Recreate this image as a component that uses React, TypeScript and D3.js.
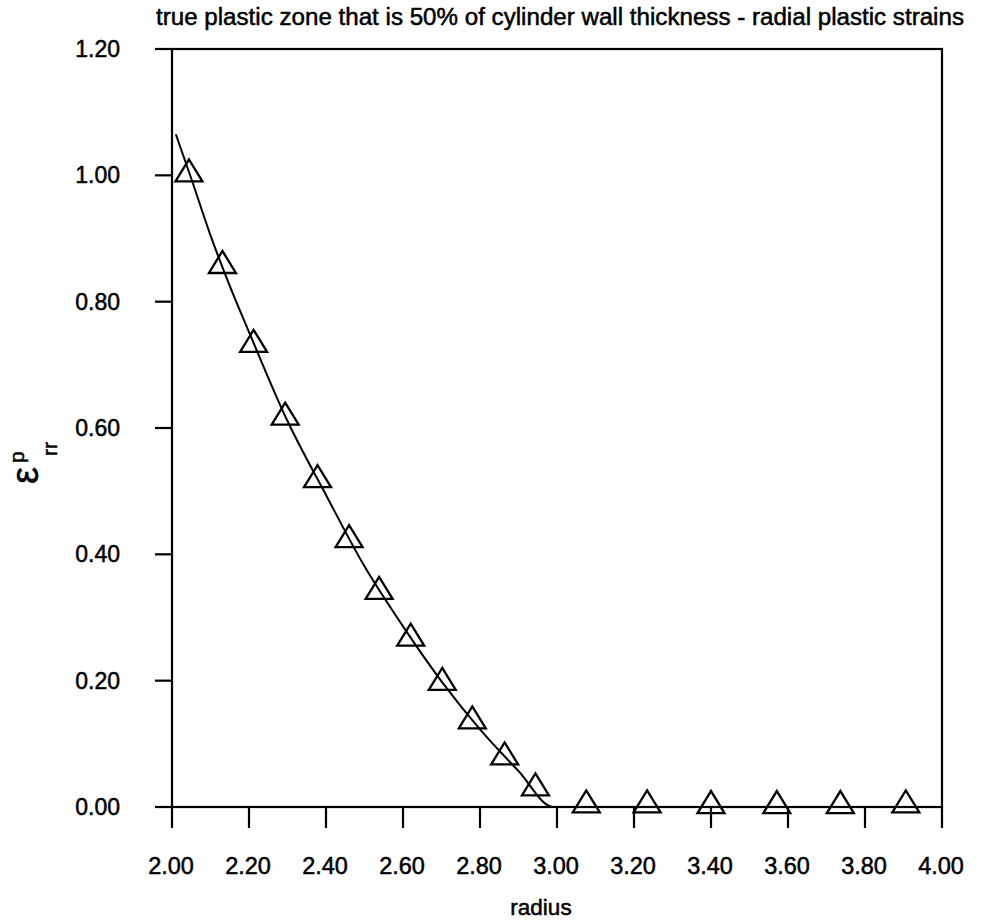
import React from "react";
import * as d3 from "d3";

const titleText = "true plastic zone that is 50% of cylinder wall thickness - radial plastic strains";
const xLabel = "radius";
const xTicks = [2.0, 2.2, 2.4, 2.6, 2.8, 3.0, 3.2, 3.4, 3.6, 3.8, 4.0];
const yTicks = [0.0, 0.2, 0.4, 0.6, 0.8, 1.0, 1.2];

// numerical results (triangles)
const markerRadius = [2.044, 2.131, 2.212, 2.294, 2.378, 2.46, 2.538, 2.62, 2.702, 2.78, 2.864, 2.944, 3.076, 3.234, 3.4, 3.571, 3.736, 3.906];
const markerStrain = [1.002, 0.857, 0.732, 0.617, 0.518, 0.423, 0.341, 0.267, 0.197, 0.136, 0.079, 0.03, 0.003, 0.003, 0.002, 0.002, 0.002, 0.003];

// analytical solution (solid line)
const lineRadius = [2.01, 2.05, 2.1, 2.15, 2.2, 2.3, 2.4, 2.5, 2.6, 2.7, 2.8, 2.9, 2.99, 4.0];
const lineStrain = [1.065, 0.995, 0.905, 0.825, 0.752, 0.611, 0.494, 0.381, 0.286, 0.199, 0.123, 0.057, 0.0, 0.0];

const W = 981;
const H = 923;
const left = 172;
const right = 942;
const top = 49;
const bottom = 807;

export default function App() {
  const x = d3.scaleLinear().domain([2, 4]).range([left, right]);
  const y = d3.scaleLinear().domain([0, 1.2]).range([bottom, top]);

  const lineGen = d3
    .line<number>()
    .x((_, i) => x(lineRadius[i]))
    .y((d) => y(d))
    .curve(d3.curveMonotoneX);

  const triW = 27;
  const triH = 22;
  const tri = (cx: number, cy: number) => {
    const by = cy + triH / 3;
    const ay = by - triH;
    return `M${cx - triW / 2},${by} L${cx + triW / 2},${by} L${cx},${ay} Z`;
  };

  const font = "'Liberation Sans', Arial, Helvetica, sans-serif";
  const ts = { stroke: "#000", strokeWidth: 0.5 } as const;

  return (
    <svg
      width={W}
      height={H}
      style={{ position: "absolute", left: 0, top: 0, background: "#fff" }}
      fontFamily={font}
    >
      <rect x={0} y={0} width={W} height={H} fill="#fff" />
      <text
        x={560}
        y={25}
        fontSize={23}
        textAnchor="middle"
        fill="#000"
        textLength={808}
        lengthAdjust="spacingAndGlyphs"
        {...ts}
      >
        {titleText}
      </text>

      {/* frame */}
      <rect x={left} y={top} width={right - left} height={bottom - top} fill="none" stroke="#000" strokeWidth={2.2} />

      {/* y ticks */}
      {yTicks.map((t) => (
        <g key={"y" + t}>
          <line x1={left - 17} x2={left} y1={y(t)} y2={y(t)} stroke="#000" strokeWidth={2.2} />
          <text x={120} y={y(t) + 8} fontSize={23} textAnchor="end" fill="#000" {...ts}>
            {t.toFixed(2)}
          </text>
        </g>
      ))}

      {/* x ticks */}
      {xTicks.map((t) => (
        <g key={"x" + t}>
          <line x1={x(t)} x2={x(t)} y1={bottom} y2={bottom + 21} stroke="#000" strokeWidth={2.2} />
          <text x={x(t) - 1} y={874} fontSize={23.5} textAnchor="middle" fill="#000" {...ts}>
            {t.toFixed(2)}
          </text>
        </g>
      ))}

      <text x={541} y={915} fontSize={22.5} textAnchor="middle" fill="#000" {...ts}>
        {xLabel}
      </text>

      {/* y axis label: epsilon^p_rr rotated */}
      <g transform="translate(38,484) rotate(-90)">
        <text x={0} y={0} fontSize={38} fill="#000" {...ts}>
          ε
        </text>
        <text x={21} y={-14} fontSize={21} fill="#000" {...ts}>
          p
        </text>
        <text x={28} y={19} fontSize={21} fill="#000" {...ts}>
          rr
        </text>
      </g>

      {/* analytical line */}
      <path d={lineGen(lineStrain) || ""} fill="none" stroke="#000" strokeWidth={2} />

      {/* markers */}
      {markerRadius.map((r, i) => (
        <path key={"m" + i} d={tri(x(r), y(markerStrain[i]))} fill="none" stroke="#000" strokeWidth={2.3} strokeLinejoin="miter" />
      ))}
    </svg>
  );
}
